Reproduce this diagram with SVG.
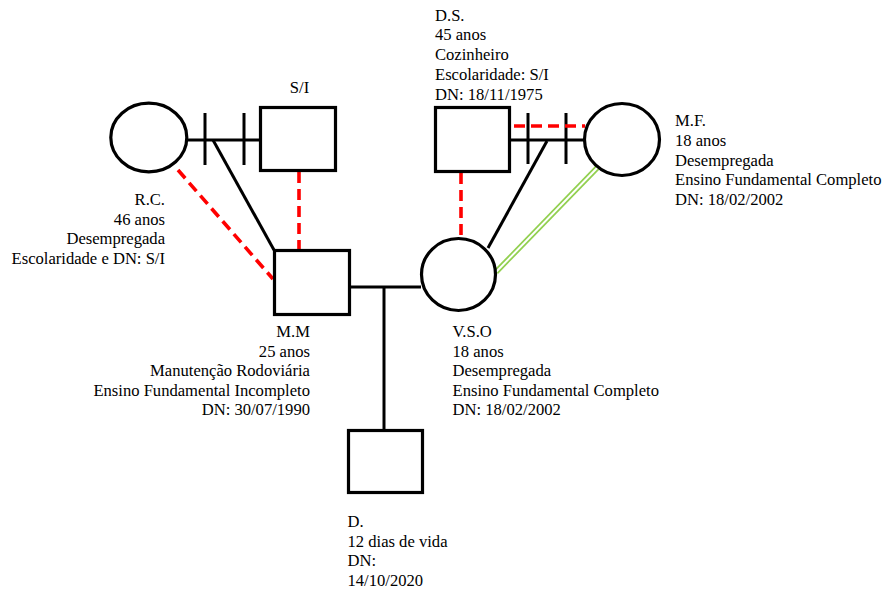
<svg xmlns="http://www.w3.org/2000/svg" width="886" height="592" viewBox="0 0 886 592">
<style>
.n{fill:#fff;stroke:#000;stroke-width:3.2}
.l{stroke:#000;stroke-width:3;fill:none}
.r{stroke:#ff0000;stroke-width:3.6;stroke-dasharray:11 6;fill:none}
.t{font-family:"Liberation Serif","Times New Roman",serif;font-size:16.6px;fill:#000}
.e{text-anchor:end}
.m{text-anchor:middle}
</style>
<rect width="886" height="592" fill="#fff"/>
<g id="connectors">
<line class="l" x1="188" y1="140" x2="260" y2="140"/>
<line class="l" x1="205" y1="113" x2="205" y2="165"/>
<line class="l" x1="244" y1="113" x2="244" y2="165"/>
<line class="l" x1="213" y1="140" x2="274" y2="250"/>
<line class="l" x1="510" y1="140" x2="585" y2="140"/>
<line class="l" x1="528" y1="113" x2="528" y2="164"/>
<line class="l" x1="566" y1="113" x2="566" y2="164"/>
<line class="l" x1="547" y1="141" x2="488" y2="248"/>
<line class="l" x1="349" y1="287" x2="421" y2="287"/>
<line class="l" x1="384" y1="287" x2="384" y2="430"/>
<line class="r" x1="299" y1="172" x2="299" y2="249"/>
<line class="r" x1="461" y1="173" x2="461" y2="237"/>
<line class="r" x1="178" y1="170" x2="273" y2="279"/>
<line class="r" x1="514" y1="126" x2="585" y2="126"/>
<line x1="598" y1="167" x2="496" y2="272" stroke="#92d050" stroke-width="5.5"/>
<line x1="598" y1="167" x2="496" y2="272" stroke="#fff" stroke-width="2"/>
</g>
<g id="rc">
<ellipse class="n" cx="148.8" cy="137.5" rx="38" ry="34.3"/>
<text class="t e" x="165" y="205">R.C.</text>
<text class="t e" x="165" y="224.5">46 anos</text>
<text class="t e" x="165" y="244">Desempregada</text>
<text class="t e" x="165" y="263.5">Escolaridade e DN: S/I</text>
</g>
<g id="si">
<rect class="n" x="260.5" y="107.5" width="75" height="63"/>
<text class="t m" x="299.5" y="93">S/I</text>
</g>
<g id="ds">
<rect class="n" x="435.5" y="107.5" width="74" height="64"/>
<text class="t" x="435" y="20.5">D.S.</text>
<text class="t" x="435" y="40.3">45 anos</text>
<text class="t" x="435" y="60">Cozinheiro</text>
<text class="t" x="435" y="80">Escolaridade: S/I</text>
<text class="t" x="435" y="100">DN: 18/11/1975</text>
</g>
<g id="mf">
<ellipse class="n" cx="622" cy="139.5" rx="37.5" ry="36"/>
<text class="t" x="675" y="126">M.F.</text>
<text class="t" x="675" y="146">18 anos</text>
<text class="t" x="675" y="165.5">Desempregada</text>
<text class="t" x="675" y="185">Ensino Fundamental Completo</text>
<text class="t" x="675" y="205">DN: 18/02/2002</text>
</g>
<g id="mm">
<rect class="n" x="274.5" y="250.5" width="75" height="64"/>
<text class="t e" x="310" y="337">M.M</text>
<text class="t e" x="310" y="356.5">25 anos</text>
<text class="t e" x="310" y="376">Manutenção Rodoviária</text>
<text class="t e" x="310" y="395.5">Ensino Fundamental Incompleto</text>
<text class="t e" x="310" y="415">DN: 30/07/1990</text>
</g>
<g id="vso">
<ellipse class="n" cx="458.5" cy="274.5" rx="37" ry="36"/>
<text class="t" x="452.5" y="337">V.S.O</text>
<text class="t" x="452.5" y="356.5">18 anos</text>
<text class="t" x="452.5" y="376">Desempregada</text>
<text class="t" x="452.5" y="395.5">Ensino Fundamental Completo</text>
<text class="t" x="452.5" y="415">DN: 18/02/2002</text>
</g>
<g id="d">
<rect class="n" x="348.5" y="430.5" width="74" height="62"/>
<text class="t" x="347.5" y="527">D.</text>
<text class="t" x="347.5" y="546.5">12 dias de vida</text>
<text class="t" x="347.5" y="566">DN:</text>
<text class="t" x="347.5" y="585.5">14/10/2020</text>
</g>
</svg>
